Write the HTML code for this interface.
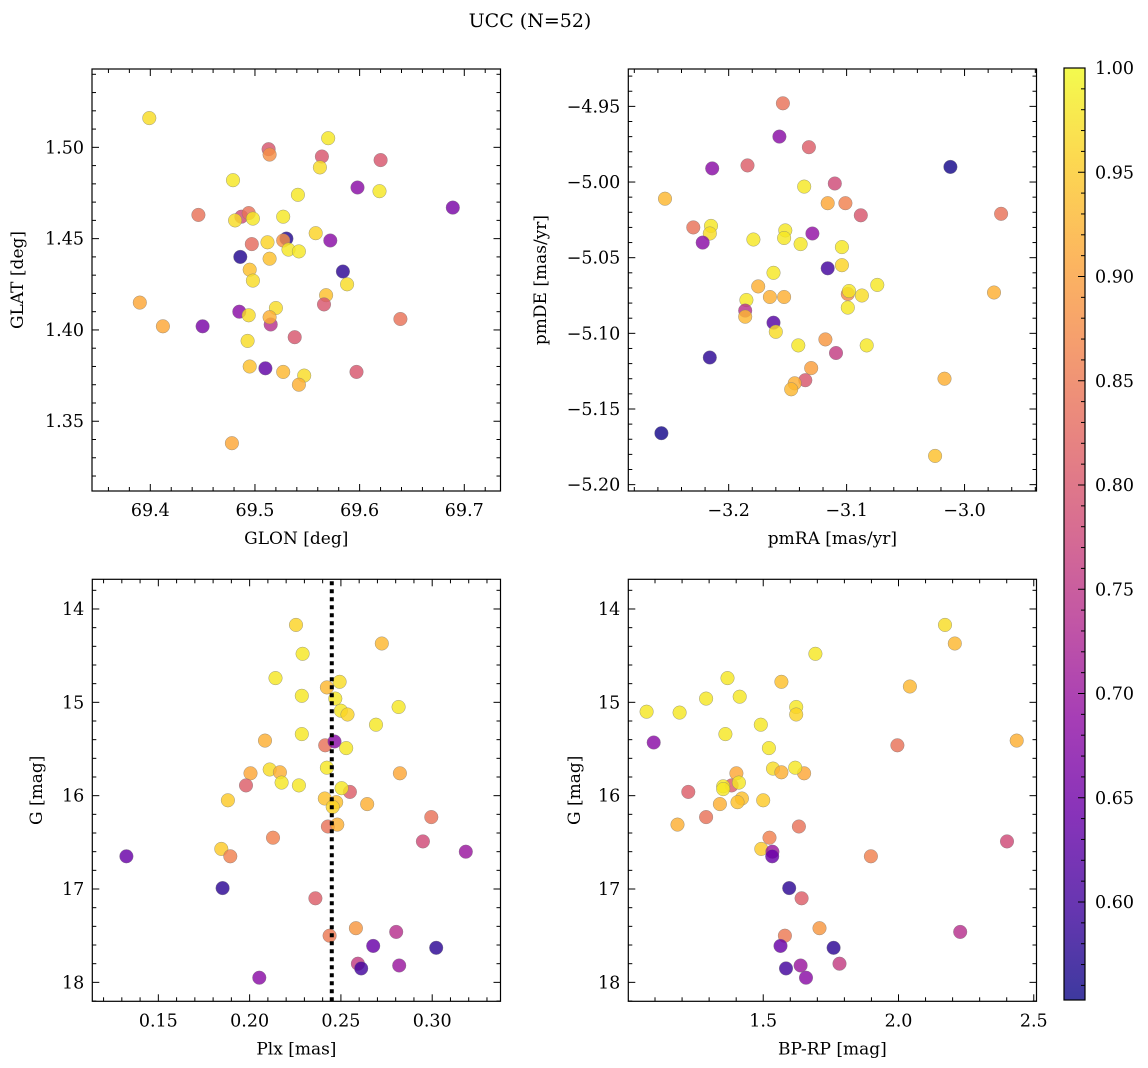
<!DOCTYPE html>
<html><head><meta charset="utf-8"><style>
html,body{margin:0;padding:0;background:#fff;}
svg{display:block;font-family:"DejaVu Serif","Liberation Serif",serif;}
</style></head><body>
<svg id="fig" width="1148" height="1068" viewBox="0 0 1148 1068" xmlns="http://www.w3.org/2000/svg">
<defs>
<linearGradient id="plasma" x1="0" y1="1" x2="0" y2="0">
<stop offset="0" stop-color="#0d0887"/><stop offset="0.1" stop-color="#41049d"/><stop offset="0.2" stop-color="#6a00a8"/><stop offset="0.3" stop-color="#8f0da4"/><stop offset="0.4" stop-color="#b12a90"/><stop offset="0.5" stop-color="#cc4778"/><stop offset="0.6" stop-color="#e16462"/><stop offset="0.7" stop-color="#f2844b"/><stop offset="0.8" stop-color="#fca636"/><stop offset="0.9" stop-color="#fcce25"/><stop offset="1" stop-color="#f0f921"/>
</linearGradient>
</defs>
<text x="530" y="27" font-size="19" text-anchor="middle">UCC (N=52)</text>
</svg>
<script>
// ---- Panel 1: GLON / GLAT ----
const glon = [69.399,69.513,69.514,69.570,69.564,69.562,69.620,69.479,69.598,69.619,69.689,69.541,69.446,69.487,69.494,69.481,69.498,69.527,69.530,69.527,69.572,69.558,69.497,69.512,69.532,69.542,69.486,69.514,69.584,69.495,69.498,69.588,69.568,69.566,69.390,69.485,69.494,69.520,69.515,69.514,69.412,69.450,69.639,69.538,69.493,69.495,69.510,69.527,69.547,69.542,69.597,69.478];
const glat = [1.516,1.499,1.496,1.505,1.495,1.489,1.493,1.482,1.478,1.476,1.467,1.474,1.463,1.462,1.464,1.460,1.461,1.462,1.450,1.449,1.449,1.453,1.447,1.448,1.444,1.443,1.440,1.439,1.432,1.433,1.427,1.425,1.419,1.414,1.415,1.410,1.408,1.412,1.403,1.407,1.402,1.402,1.406,1.396,1.394,1.380,1.379,1.377,1.375,1.370,1.377,1.338];
const prob1 = [0.97,0.80,0.88,0.98,0.80,0.97,0.80,0.98,0.68,0.98,0.66,0.98,0.84,0.78,0.84,0.97,0.98,0.98,0.57,0.88,0.68,0.96,0.83,0.96,0.98,0.98,0.57,0.94,0.58,0.94,0.97,0.97,0.94,0.80,0.91,0.68,0.97,0.97,0.74,0.92,0.91,0.66,0.84,0.80,0.97,0.94,0.63,0.93,0.97,0.92,0.80,0.91];
// ---- Panel 2: pmRA / pmDE ----
const pmra = [-3.154,-3.157,-3.132,-3.214,-3.184,-3.012,-3.136,-3.110,-3.254,-3.116,-3.101,-3.088,-2.969,-3.230,-3.215,-3.216,-3.222,-3.179,-3.152,-3.153,-3.139,-3.129,-3.104,-3.104,-3.116,-3.162,-3.175,-3.165,-3.153,-3.099,-3.098,-3.087,-3.074,-3.099,-2.975,-3.185,-3.186,-3.186,-3.162,-3.160,-3.141,-3.118,-3.083,-3.109,-3.216,-3.130,-3.135,-3.144,-3.147,-3.017,-3.257,-3.025];
const pmde = [-4.948,-4.970,-4.977,-4.991,-4.989,-4.990,-5.003,-5.001,-5.011,-5.014,-5.014,-5.022,-5.021,-5.030,-5.029,-5.034,-5.040,-5.038,-5.032,-5.037,-5.041,-5.034,-5.043,-5.055,-5.057,-5.060,-5.069,-5.076,-5.076,-5.074,-5.072,-5.075,-5.068,-5.083,-5.073,-5.078,-5.085,-5.089,-5.093,-5.099,-5.108,-5.104,-5.108,-5.113,-5.116,-5.123,-5.131,-5.133,-5.137,-5.130,-5.166,-5.181];
const prob2 = [0.84,0.68,0.81,0.68,0.81,0.56,0.98,0.78,0.93,0.91,0.86,0.80,0.84,0.84,0.98,0.97,0.68,0.98,0.98,0.98,0.98,0.69,0.98,0.96,0.60,0.98,0.92,0.92,0.92,0.87,0.98,0.97,0.98,0.98,0.92,0.98,0.74,0.93,0.62,0.97,0.98,0.89,0.98,0.76,0.58,0.90,0.80,0.92,0.93,0.92,0.56,0.94];
// ---- Panel 3: Plx / G ----
const plx = [0.2254,0.2724,0.229,0.2142,0.2493,0.2423,0.2286,0.2469,0.2816,0.250,0.2536,0.2692,0.2286,0.2084,0.2414,0.2465,0.2529,0.2005,0.211,0.2166,0.2175,0.227,0.2423,0.2823,0.198,0.2549,0.2504,0.1881,0.2412,0.2474,0.2644,0.2995,0.2429,0.248,0.2128,0.2949,0.1845,0.1894,0.1325,0.3184,0.1852,0.236,0.2582,0.2438,0.2803,0.2677,0.3022,0.2593,0.2611,0.2819,0.2053,0.2455];
const gmag3 = [14.17,14.37,14.48,14.74,14.78,14.84,14.93,14.96,15.05,15.09,15.13,15.24,15.34,15.41,15.46,15.42,15.49,15.76,15.72,15.75,15.86,15.89,15.70,15.76,15.89,15.96,15.92,16.05,16.03,16.07,16.09,16.23,16.33,16.31,16.45,16.49,16.57,16.65,16.65,16.60,16.99,17.10,17.42,17.50,17.46,17.61,17.63,17.80,17.85,17.82,17.95,16.12];
const prob3 = [0.96,0.93,0.98,0.98,0.97,0.93,0.98,0.98,0.98,0.98,0.96,0.98,0.98,0.92,0.84,0.68,0.98,0.91,0.97,0.92,0.98,0.98,0.98,0.91,0.81,0.81,0.98,0.95,0.94,0.94,0.92,0.84,0.84,0.92,0.86,0.78,0.95,0.86,0.64,0.70,0.58,0.81,0.89,0.85,0.74,0.64,0.58,0.76,0.60,0.70,0.68,0.96];
const plxLine = [0.245];
// ---- Panel 4: BP-RP / G ----
const bprp = [2.172,2.208,1.693,1.368,1.567,2.042,1.289,1.413,1.069,1.191,1.622,1.622,1.491,1.360,1.095,2.437,1.996,1.521,1.536,1.567,1.651,1.618,1.401,1.383,1.352,1.352,1.410,1.223,1.421,1.405,1.340,1.500,1.289,1.183,1.632,1.523,2.401,1.493,1.534,1.533,1.898,1.596,1.642,1.708,1.580,2.228,1.564,1.760,1.782,1.584,1.638,1.658];
const gmag4 = [14.17,14.37,14.48,14.74,14.78,14.83,14.96,14.94,15.10,15.11,15.05,15.13,15.24,15.34,15.43,15.41,15.46,15.49,15.71,15.75,15.76,15.70,15.76,15.89,15.90,15.93,15.86,15.96,16.03,16.07,16.09,16.05,16.23,16.31,16.33,16.45,16.49,16.57,16.60,16.65,16.65,16.99,17.10,17.42,17.50,17.46,17.61,17.63,17.80,17.85,17.82,17.95];
const prob4 = [0.97,0.93,0.98,0.98,0.94,0.93,0.98,0.98,0.98,0.98,0.98,0.96,0.98,0.98,0.68,0.92,0.84,0.98,0.97,0.92,0.91,0.98,0.91,0.81,0.98,0.98,0.98,0.81,0.94,0.94,0.92,0.95,0.84,0.92,0.84,0.86,0.78,0.95,0.70,0.64,0.86,0.58,0.81,0.89,0.85,0.74,0.64,0.58,0.76,0.60,0.70,0.68];
// ---- tick labels ----
const ticks1x = [69.4,69.5,69.6,69.7];
const ticks1y = [1.35,1.40,1.45,1.50];
const ticks2x = [-3.2,-3.1,-3.0];
const ticks2y = [-5.20,-5.15,-5.10,-5.05,-5.00,-4.95];
const ticks3x = [0.15,0.20,0.25,0.30];
const ticks4x = [1.5,2.0,2.5];
const ticksG = [14,15,16,17,18];
const cbTicks = [0.60,0.65,0.70,0.75,0.80,0.85,0.90,0.95,1.00];

const NS = "http://www.w3.org/2000/svg";
const svg = document.getElementById('fig');
const stops = [[13,8,135],[65,4,157],[106,0,168],[143,13,164],[177,42,144],[204,71,120],[225,100,98],[242,132,75],[252,166,54],[252,206,37],[240,249,33]];
const PMIN = 0.553, PMAX = 1.0;
const TF = 17.5, LF = 17;
function cmap(p){
  let t = Math.max(0, Math.min(1, (p-PMIN)/(PMAX-PMIN)))*10;
  const i = Math.min(9, Math.floor(t)), f = t-i;
  const a = stops[i], b = stops[i+1];
  return 'rgb('+[0,1,2].map(k=>Math.round(a[k]+(b[k]-a[k])*f)).join(',')+')';
}
function mk(tag, attrs, parent){
  const e = document.createElementNS(NS, tag);
  for (const k in attrs) e.setAttribute(k, attrs[k]);
  (parent||svg).appendChild(e);
  return e;
}
function fmt(v, d){ return (v<0?'\u2212':'') + Math.abs(v).toFixed(d); }

function panel(opt){
  const {L,R,T,B,xmin,xmax,ymin,ymax,invY} = opt;
  const sx = v => L + (v-xmin)/(xmax-xmin)*(R-L);
  const sy = invY ? (v => T + (v-ymin)/(ymax-ymin)*(B-T)) : (v => B - (v-ymin)/(ymax-ymin)*(B-T));
  const g = mk('g', {});
  
  
  const pg = mk('g', {}, g);
  
  
  for (let i=0;i<opt.xs.length;i++){
    const c = mk('circle', {cx:sx(opt.xs[i]).toFixed(1), cy:sy(opt.ys[i]).toFixed(1), r:6.8, fill:cmap(opt.ps[i]), 'fill-opacity':0.82, stroke:'#777', 'stroke-width':0.5, 'stroke-opacity':0.7}, pg);
    
    
  }
  if (opt.vline !== undefined){
    const ln = mk('line', {x1:sx(opt.vline), x2:sx(opt.vline), y1:T+2, y2:B, stroke:'#000', 'stroke-width':4, 'stroke-dasharray':'4 4'}, g);
    
    
  }
  const tg = mk('g', {stroke:'#000', 'stroke-width':1}, g);
  
  
  const eps = 1e-9;
  const nx0 = Math.ceil(xmin/opt.xminor - eps), nx1 = Math.floor(xmax/opt.xminor + eps);
  for (let n=nx0;n<=nx1;n++){
    const v = n*opt.xminor, x = sx(v);
    const major = Math.abs(v/opt.xmajor - Math.round(v/opt.xmajor)) < 1e-6;
    const len = major?7:4;
    mk('line',{x1:x,x2:x,y1:B,y2:B-len},tg); mk('line',{x1:x,x2:x,y1:T,y2:T+len},tg);
  }
  const lo = Math.min(ymin,ymax), hi = Math.max(ymin,ymax);
  const ny0 = Math.ceil(lo/opt.yminor - eps), ny1 = Math.floor(hi/opt.yminor + eps);
  for (let n=ny0;n<=ny1;n++){
    const v = n*opt.yminor, y = sy(v);
    const major = Math.abs(v/opt.ymajor - Math.round(v/opt.ymajor)) < 1e-6;
    const len = major?7:4;
    mk('line',{x1:L,x2:L+len,y1:y,y2:y},tg); mk('line',{x1:R,x2:R-len,y1:y,y2:y},tg);
  }
  const fr = mk('rect',{x:L,y:T,width:R-L,height:B-T,fill:'none',stroke:'#000','stroke-width':1.2},g);
  
  
  opt.xt.forEach(v=>{
    const t = mk('text',{x:sx(v),y:B+25,'font-size':TF,'text-anchor':'middle'},g);
    t.textContent = fmt(v,opt.xd);
    
    
  });
  opt.yt.forEach(v=>{
    const t = mk('text',{x:L-8,y:sy(v)+6,'font-size':TF,'text-anchor':'end'},g);
    t.textContent = fmt(v,opt.yd);
    
    
  });
  const xl = mk('text',{x:(L+R)/2,y:B+53,'font-size':LF,'text-anchor':'middle'},g);
  xl.textContent = opt.xlabel;
  
  
  const yl = mk('text',{x:0,y:0,'font-size':LF,'text-anchor':'middle',transform:'translate('+opt.ylx+','+(T+B)/2+') rotate(-90)'},g);
  yl.textContent = opt.ylabel;
  
  
}

panel({name:'glon-glat-panel',L:92,R:500.5,T:69,B:491,xmin:69.3443,xmax:69.7346,ymin:1.3118,ymax:1.5429,
  xs:glon,ys:glat,ps:prob1,xminor:0.02,xmajor:0.1,yminor:0.01,ymajor:0.05,xt:ticks1x,yt:ticks1y,xd:1,yd:2,
  xlabel:'GLON [deg]',ylabel:'GLAT [deg]',ylx:23});
panel({name:'pmra-pmde-panel',L:628.3,R:1036.5,T:69,B:491,xmin:-3.2851,xmax:-2.939,ymin:-5.2042,ymax:-4.9253,
  xs:pmra,ys:pmde,ps:prob2,xminor:0.02,xmajor:0.1,yminor:0.01,ymajor:0.05,xt:ticks2x,yt:ticks2y,xd:1,yd:2,
  xlabel:'pmRA [mas/yr]',ylabel:'pmDE [mas/yr]',ylx:546});
panel({name:'plx-g-panel',L:92.3,R:500.5,T:579.3,B:1001.3,xmin:0.11383,xmax:0.33741,ymin:13.682,ymax:18.203,invY:true,
  xs:plx,ys:gmag3,ps:prob3,xminor:0.01,xmajor:0.05,yminor:0.2,ymajor:1,xt:ticks3x,yt:ticksG,xd:2,yd:0,
  xlabel:'Plx [mas]',ylabel:'G [mag]',ylx:42,vline:plxLine[0]});
panel({name:'bprp-g-panel',L:628.3,R:1036.5,T:579.3,B:1001.3,xmin:1.00125,xmax:2.5101,ymin:13.682,ymax:18.203,invY:true,
  xs:bprp,ys:gmag4,ps:prob4,xminor:0.1,xmajor:0.5,yminor:0.2,ymajor:1,xt:ticks4x,yt:ticksG,xd:1,yd:0,
  xlabel:'BP-RP [mag]',ylabel:'G [mag]',ylx:580});

// ---- colorbar ----
(function(){
  const L=1064, R=1085, T=68, B=1000;
  const cy = v => B - (v-PMIN)/(PMAX-PMIN)*(B-T);
  const g = mk('g',{});
  
  
  const r = mk('rect',{x:L,y:T,width:R-L,height:B-T,fill:'url(#plasma)','fill-opacity':0.8},g);
  
  
  mk('rect',{x:L,y:T,width:R-L,height:B-T,fill:'none',stroke:'#000','stroke-width':1.2},g);
  for (let n=Math.ceil(PMIN*100); n<=100; n++){
    const v=n/100, y=cy(v), major = n%5===0;
    mk('line',{x1:R,x2:R-(major?7:4),y1:y,y2:y,stroke:'#000','stroke-width':1},g);
  }
  cbTicks.forEach(v=>{
    const t = mk('text',{x:R+10,y:cy(v)+6,'font-size':TF},g);
    t.textContent = v.toFixed(2);
    
    
  });
})();
</script>
</body></html>
